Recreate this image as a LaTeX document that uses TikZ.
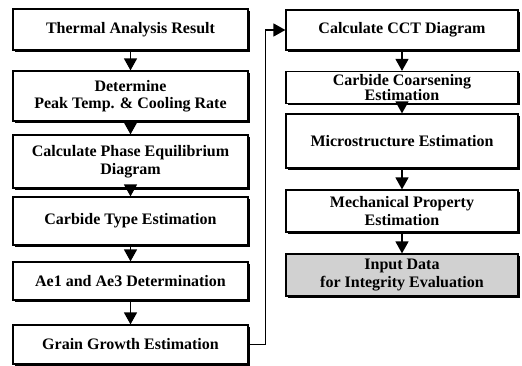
\documentclass[tikz,border=0pt]{standalone}
\usepackage{fontspec}
\setmainfont{Liberation Serif}
\usetikzlibrary{arrows.meta,shadows}
\begin{document}
\begin{tikzpicture}[x=1pt,y=-1pt,
  box/.style={draw, line width=1.2pt, fill=white, align=center, inner sep=0pt,
    font=\bfseries\fontsize{16}{17.5}\selectfont,
    general shadow={fill=black, shadow xshift=1.8pt, shadow yshift=-1.8pt}},
  lbox/.style={box, minimum width=235pt},
  rbox/.style={box, minimum width=232pt},
  arr/.style={-{Triangle[width=13pt,length=12pt]}, line width=1.4pt}]
\useasboundingbox (0,0) rectangle (522,366);
\node[lbox, minimum height=41pt] (b1) at (130.5,29.5) {Thermal Analysis Result};
\node[lbox, minimum height=50pt] (b2) at (130.5,96) {Determine\\Peak Temp. \& Cooling Rate};
\node[lbox, minimum height=53pt] (b3) at (130.5,161.5) {Calculate Phase Equilibrium\\Diagram};
\node[lbox, minimum height=48pt] (b4) at (130.5,221) {Carbide Type Estimation};
\node[lbox, minimum height=38pt] (b5) at (130.5,281) {Ae1 and Ae3 Determination};
\node[lbox, minimum height=39pt] (b6) at (130.5,344.5) {Grain Growth Estimation};
\node[rbox, minimum height=40pt] (r1) at (402,30) {Calculate CCT Diagram};
\node[rbox, minimum height=32pt, font=\bfseries\fontsize{16}{15}\selectfont] (r2) at (402,87.5) {Carbide Coarsening\\Estimation};
\node[rbox, minimum height=54pt] (r3) at (402,141) {Microstructure Estimation};
\node[rbox, minimum height=42pt] (r4) at (402,211) {Mechanical Property\\Estimation};
\node[rbox, minimum height=42pt, fill=black!18] (r5) at (402,275) {Input Data\\for Integrity Evaluation};
\draw[arr] (b1) -- (b2);
\draw[arr] (b2) -- (b3);
\draw[arr] (b3) -- (b4);
\draw[arr] (b4) -- (b5);
\draw[arr] (b5) -- (b6);
\draw[arr] (b6.east) -- ++(17,0) |- (r1.west);
\draw[arr] (r1) -- (r2);
\draw[arr] (r2) -- (r3);
\draw[arr] (r3) -- (r4);
\draw[arr] (r4) -- (r5);
\end{tikzpicture}
\end{document}
